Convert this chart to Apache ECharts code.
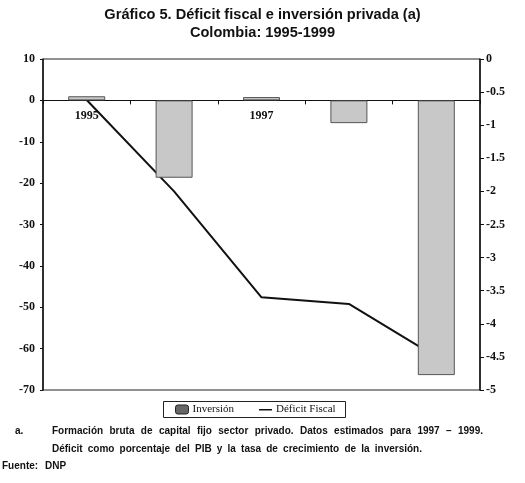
<!DOCTYPE html>
<html>
<head>
<meta charset="utf-8">
<script src="https://cdn.jsdelivr.net/npm/echarts@6/dist/echarts.min.js"></script>
<style>
  html, body { margin: 0; padding: 0; background: #fff; }
  #main { width: 525px; height: 483px; }
</style>
</head>
<body>
<div id="main"></div>
<script>
// datos
var years = ["1995", "1996", "1997", "1998", "1999"];
var inversion = [1.0, -18.7, 0.8, -5.5, -66.4];      // eje izquierdo
var deficit = [-0.62, -2.0, -3.6, -3.7, -4.5];        // eje derecho (% PIB)
var shownYears = ["1995", "1997"];                    // los demas quedan tapados por las barras
var leftAxis = { min: -70, max: 10, step: 10 };
var rightAxis = { min: -5, max: 0, step: 0.5 };

var nota1 = "Formación bruta de capital fijo sector privado.  Datos estimados para 1997 – 1999.";
var nota2 = "Déficit como porcentaje del PIB y la tasa de crecimiento de la inversión.";

var serif = '"Liberation Serif", "Times New Roman", serif';
var sans = '"Liberation Sans", Arial, sans-serif';
var noteFont = 'bold 10px ' + sans;

// reparte las palabras de una linea entre x0 y x1 (texto justificado)
var ctx = document.createElement("canvas").getContext("2d");
function justify(text, x0, x1, y) {
  ctx.font = noteFont;
  var words = text.split(/\s+/);
  var widths = words.map(function (w) { return ctx.measureText(w).width; });
  var total = widths.reduce(function (a, b) { return a + b; }, 0);
  var gap = (x1 - x0 - total) / (words.length - 1);
  var x = x0;
  return words.map(function (w, i) {
    var el = {
      type: "text", x: x, y: y,
      style: { text: w, font: noteFont, fill: "#111", textVerticalAlign: "middle" }
    };
    x += widths[i] + gap;
    return el;
  });
}

var graphics = [
  // recuadro de la leyenda
  { type: "rect", shape: { x: 163.5, y: 401.5, width: 182, height: 16 },
    style: { fill: "none", stroke: "#222", lineWidth: 1 } },
  { type: "text", x: 15, y: 431, style: { text: "a.", font: noteFont, fill: "#111", textVerticalAlign: "middle" } },
  { type: "text", x: 2, y: 466, style: { text: "Fuente:", font: noteFont, fill: "#111", textVerticalAlign: "middle" } },
  { type: "text", x: 45, y: 466, style: { text: "DNP", font: noteFont, fill: "#111", textVerticalAlign: "middle" } }
].concat(justify(nota1, 52, 483, 431)).concat(justify(nota2, 52, 422, 449));

// el rotulo del año va justo debajo de la linea del cero
var barData = inversion.map(function (v, i) {
  return {
    value: v,
    label: { show: shownYears.indexOf(years[i]) >= 0, formatter: years[i] }
  };
});

var myChart = echarts.init(document.getElementById("main"));

myChart.setOption({
  backgroundColor: "#fff",
  animation: false,
  title: {
    text: "Gráfico 5. Déficit fiscal e inversión privada (a)\nColombia: 1995-1999",
    left: "center",
    top: 1,
    textStyle: { fontFamily: sans, fontSize: 14.6, fontWeight: "bold", color: "#111", lineHeight: 18 }
  },
  legend: {
    left: 175,
    top: 404,
    padding: 0,
    itemWidth: 13,
    itemHeight: 9,
    itemGap: 25,
    textStyle: { fontFamily: serif, fontSize: 11, color: "#111", padding: [1, 0, 0, -1] },
    data: [
      { name: "Inversión", itemStyle: { color: "#666", borderColor: "#222", borderWidth: 1 } },
      { name: "Déficit Fiscal",
        icon: "path://M0,4L13,4L13,5.6L0,5.6Z M0,0L0.01,0L0,0.01Z M13,9L13.01,9L13,9.01Z",
        itemStyle: { color: "#111", borderWidth: 0 } }
    ]
  },
  grid: {
    left: 43, right: 45, top: 59, bottom: 93,
    show: true, borderColor: "#222", borderWidth: 1, backgroundColor: "transparent"
  },
  xAxis: {
    type: "category",
    data: years,
    axisLine: { onZero: true, onZeroAxisIndex: 0, lineStyle: { color: "#111", width: 1.2 } },
    axisTick: { show: true, length: 4, lineStyle: { color: "#111" } },
    axisLabel: { show: false },
    splitLine: { show: false }
  },
  yAxis: [
    {
      type: "value",
      min: leftAxis.min, max: leftAxis.max, interval: leftAxis.step,
      axisLine: { show: true, lineStyle: { color: "#111", width: 1.5 } },
      axisTick: { show: true, length: 3, lineStyle: { color: "#111" } },
      axisLabel: { margin: 8, fontFamily: serif, fontSize: 12, fontWeight: "bold", color: "#111" },
      splitLine: { show: false }
    },
    {
      type: "value",
      position: "right",
      min: rightAxis.min, max: rightAxis.max, interval: rightAxis.step,
      axisLine: { show: true, lineStyle: { color: "#111", width: 1.5 } },
      axisTick: { show: true, length: 4, lineStyle: { color: "#111" } },
      axisLabel: { margin: 6, fontFamily: serif, fontSize: 12, fontWeight: "bold", color: "#111" },
      splitLine: { show: false }
    }
  ],
  series: [
    {
      name: "Déficit Fiscal",
      type: "line",
      yAxisIndex: 1,
      data: deficit,
      symbol: "none",
      z: 2,
      lineStyle: { color: "#111", width: 2 },
      itemStyle: { color: "#111" }
    },
    {
      name: "Inversión",
      type: "bar",
      yAxisIndex: 0,
      data: barData,
      barWidth: 37,
      z: 3,
      label: {
        position: "bottom",
        distance: 10,
        fontFamily: serif, fontSize: 12, fontWeight: "bold", color: "#111"
      },
      itemStyle: { color: "#c8c8c8", borderColor: "#555", borderWidth: 1 }
    }
  ],
  graphic: graphics
});
</script>
</body>
</html>
